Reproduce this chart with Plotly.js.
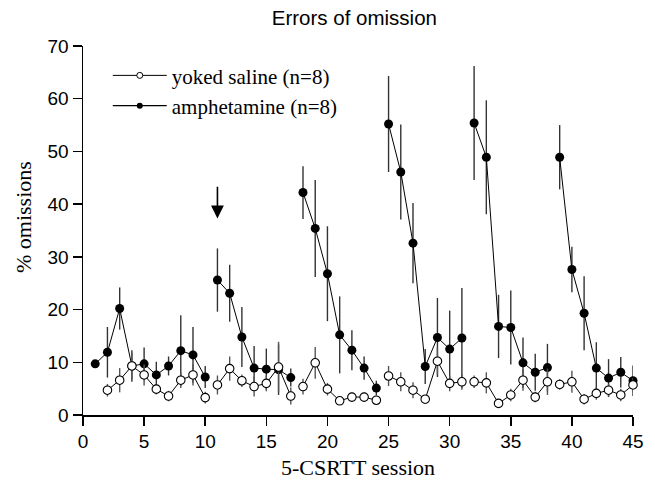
<!DOCTYPE html>
<html><head><meta charset="utf-8">
<script src="https://cdn.plot.ly/plotly-3.0.1.min.js"></script>
<style>html,body{margin:0;padding:0;background:#fff}#chart{width:655px;height:482px}</style>
</head><body><div id="chart"></div>
<script>
// Session numbers
const sessions = [1,2,3,4,5,6,7,8,9,10,11,12,13,14,15,16,17,18,19,20,21,22,23,24,25,26,27,28,29,30,31,32,33,34,35,36,37,38,39,40,41,42,43,44,45];
// Sessions that start a new connected block
const blockStarts = [11,18,25,32,39];
// Amphetamine (n=8) mean % omissions and SEM
const amphMean = [9.7,11.9,20.2,9.3,9.7,7.6,9.3,12.2,11.4,7.2,25.6,23.1,14.8,8.9,8.7,8.6,7.1,42.2,35.4,26.8,15.2,12.3,8.9,5.1,55.2,46.1,32.6,9.2,14.7,12.5,14.6,55.4,48.9,16.8,16.6,9.9,8.1,9.0,48.9,27.6,19.3,8.9,7.0,8.1,6.5];
const amphSem  = [0,4.8,4.0,3.0,3.1,2.5,1.8,6.7,5.3,2.1,6.0,5.4,5.7,4.2,3.9,4.8,1.7,5.0,9.2,9.0,7.3,3.8,2.2,1.4,9.1,9.0,7.6,3.3,7.5,7.3,9.5,10.8,10.8,6.0,7.0,4.8,3.5,4.5,6.1,4.3,7.0,4.9,3.6,2.9,2.9];
// Yoked saline (n=8) mean % omissions and SEM
const salMean = [null,4.7,6.6,9.3,7.6,4.9,3.6,6.6,7.6,3.3,5.7,8.8,6.5,5.4,6.0,9.1,3.6,5.4,9.9,4.9,2.7,3.4,3.4,2.8,7.4,6.3,4.7,3.0,10.2,6.0,6.3,6.3,6.1,2.2,3.8,6.6,3.4,6.3,5.8,6.3,3.0,4.1,4.7,3.8,5.7];
const salSem  = [null,1.2,2.3,2.5,2.0,1.0,1.0,1.5,2.0,1.1,1.8,2.3,1.2,1.9,1.5,4.8,1.6,1.5,3.0,1.2,0.8,0.8,0.8,0.8,1.9,1.8,1.5,0.8,2.5,1.5,1.5,1.2,2.0,0.8,1.2,2.0,1.0,2.5,1.0,2.1,1.0,1.2,1.2,1.2,1.3];
const seriesNames = ['yoked saline (n=8)','amphetamine (n=8)'];
const xTicks = [0,5,10,15,20,25,30,35,40,45];
const yTicks = [0,10,20,30,40,50,60,70];

function withGaps(xs, ys, es){
  const X=[],Y=[],E=[];
  for(let i=0;i<xs.length;i++){
    if(blockStarts.includes(xs[i])){X.push(xs[i]-0.5);Y.push(null);E.push(null);}
    X.push(xs[i]);Y.push(ys[i]);E.push(es[i]);
  }
  return {X,Y,E};
}
const a = withGaps(sessions, amphMean, amphSem);
const s = withGaps(sessions, salMean, salSem);
const serif = 'Liberation Serif, Times New Roman, serif';
const sans = 'Liberation Sans, Arial, sans-serif';

const amphTrace = {x:a.X,y:a.Y,name:seriesNames[1],type:'scatter',mode:'lines+markers',cliponaxis:false,connectgaps:false,
   line:{color:'#000',width:1},marker:{symbol:'circle',size:9,color:'#000'},showlegend:false,
   error_y:{type:'data',array:a.E,visible:true,color:'#333',thickness:1.4,width:0}};
const salTrace = {x:s.X,y:s.Y,name:seriesNames[0],type:'scatter',mode:'lines+markers',cliponaxis:false,connectgaps:false,
   line:{color:'#000',width:1},marker:{symbol:'circle',size:8.5,color:'#fff',line:{color:'#000',width:1.1}},showlegend:false,
   error_y:{type:'data',array:s.E,visible:true,color:'#555',thickness:1.4,width:0}};
// legend-only entries with small symbols, as in the reference key
const salKey = {x:[null],y:[null],name:seriesNames[0],type:'scatter',mode:'lines+markers',
   line:{color:'#000',width:1},marker:{size:6,color:'#fff',line:{color:'#000',width:1}},legendrank:1};
const amphKey = {x:[null],y:[null],name:seriesNames[1],type:'scatter',mode:'lines+markers',
   line:{color:'#000',width:1.3},marker:{size:6,color:'#000'},legendrank:2};
const data = [amphTrace, salTrace, salKey, amphKey];

const layout = {
  width:655,height:482,
  margin:{l:83,r:22,t:46,b:67},
  paper_bgcolor:'#fff',plot_bgcolor:'#fff',
  title:{text:'Errors of omission',font:{family:sans,size:20.5,color:'#000'},x:0.541,xanchor:'center',y:0.963,yanchor:'middle',yref:'container'},
  xaxis:{range:[0,45],tickvals:xTicks,ticktext:xTicks.map(String),showgrid:false,zeroline:false,
    showline:true,linecolor:'#000',linewidth:1.5,ticks:'outside',ticklen:9,tickwidth:1.5,tickcolor:'#000',
    tickfont:{family:sans,size:19,color:'#000'},
    title:{text:'5-CSRTT session',font:{family:serif,size:22,color:'#000'},standoff:8}},
  yaxis:{range:[0,70],tickvals:yTicks,ticktext:yTicks.map(String),showgrid:false,zeroline:false,
    showline:true,linecolor:'#000',linewidth:1.5,ticks:'outside',ticklen:9,tickwidth:1.5,tickcolor:'#000',
    tickfont:{family:sans,size:19,color:'#000'}},
  showlegend:true,
  legend:{x:0.0505,y:0.975,xanchor:'left',yanchor:'top',bgcolor:'rgba(0,0,0,0)',itemwidth:51,tracegroupgap:0,
    font:{family:serif,size:21,color:'#000'},traceorder:'normal'},
  annotations:[
    {x:11,y:37.3,xref:'x',yref:'y',ax:11,ay:43.6,axref:'x',ayref:'y',text:'',
     showarrow:true,arrowhead:2,arrowsize:1.6,arrowwidth:1.6,arrowcolor:'#000'},
    {text:'% omissions',xref:'paper',yref:'paper',x:-0.107,y:0.537,xanchor:'center',yanchor:'middle',
     textangle:-90,showarrow:false,font:{family:serif,size:22,color:'#000'}}
  ]
};
Plotly.newPlot('chart', data, layout, {displayModeBar:false, staticPlot:true}).then(function(gd){
  // lengthen the key lines to the reference's longer sample line
  gd.querySelectorAll('.legend .traces').forEach(function(t){
    t.querySelectorAll('.legendlines path').forEach(function(p){p.setAttribute('d','M2,0h54');});
    t.querySelectorAll('.legendpoints path').forEach(function(p){p.setAttribute('transform','translate(29,0)');});
  });
});
</script></body></html>
